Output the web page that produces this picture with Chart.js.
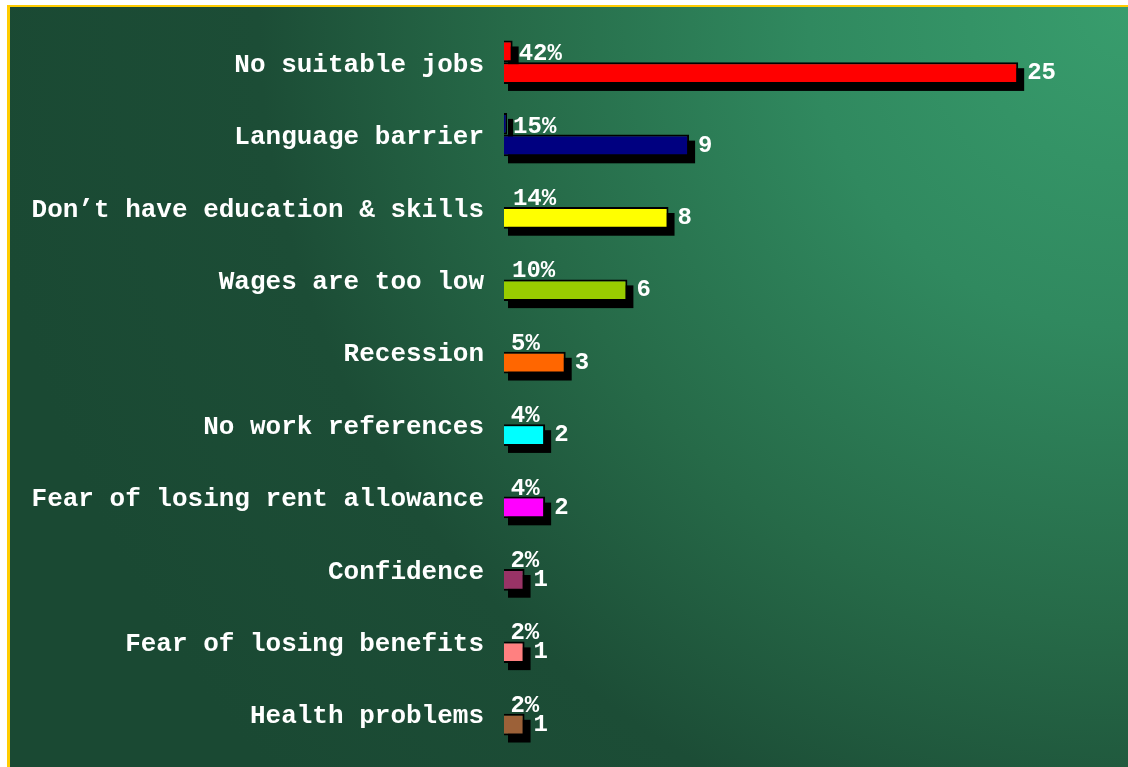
<!DOCTYPE html>
<html>
<head>
<meta charset="utf-8">
<script src="https://cdn.jsdelivr.net/npm/chart.js@4/dist/chart.umd.min.js"></script>
<style>
    html, body { margin: 0; padding: 0; background: #ffffff; }
    #frame {
        position: absolute; left: 7px; top: 5px; right: 0; bottom: 0;
        border-left: 3px solid #ffcc00;
        border-top: 2px solid #ffcc00;
        background: radial-gradient(circle at 100% 0%, #389d6d 0px, #30895f 320px, #266a48 620px, #1c4d36 870px, #1a4933 1150px);
    }
    #wrap { position: absolute; left: 0; top: 0; width: 1128px; height: 767px; }
</style>
</head>
<body>
<div id="frame"></div>
<div id="wrap"><canvas id="reasonChart"></canvas></div>
<script>
const categories = [
    'No suitable jobs',
    'Language barrier',
    'Don\u2019t have education & skills',
    'Wages are too low',
    'Recession',
    'No work references',
    'Fear of losing rent allowance',
    'Confidence',
    'Fear of losing benefits',
    'Health problems'
];
// 回答数
const counts = [25, 9, 8, 6, 3, 2, 2, 1, 1, 1];
// 割合 (%)
const shares = [42, 15, 14, 10, 5, 4, 4, 2, 2, 2];
// 割合の小さいバー（元の図では上2つだけ表示）
const shareBars = [0.42, 0.15, null, null, null, null, null, null, null, null];
const barColors = ['#ff0000', '#000080', '#ffff00', '#99cc00', '#ff6600',
                   '#00ffff', '#ff00ff', '#993366', '#ff8080', '#9c6138'];

const monoFont = '"Liberation Mono", "Courier New", monospace';

// 影を先に全部描く
const shadowPlugin = {
    id: 'barShadow',
    beforeDatasetsDraw(chart) {
        const ctx = chart.ctx;
        ctx.save();
        ctx.fillStyle = '#000000';
        chart.data.datasets.forEach((ds, di) => {
            const meta = chart.getDatasetMeta(di);
            meta.data.forEach((el, i) => {
                if (ds.data[i] == null) return;
                const p = el.getProps(['x', 'y', 'base', 'height'], true);
                const left = Math.min(p.x, p.base) - 1;
                const w = Math.abs(p.x - p.base) + 2;
                ctx.fillRect(left + 5, p.y - p.height / 2 + 6, w, p.height + 1);
            });
        });
        ctx.restore();
    }
};

// 数値ラベル
const labelPlugin = {
    id: 'valueLabels',
    afterDatasetsDraw(chart) {
        const ctx = chart.ctx;
        const xs = chart.scales.x;
        const mainMeta = chart.getDatasetMeta(1);
        ctx.save();
        ctx.fillStyle = '#ffffff';
        ctx.font = 'bold 24px ' + monoFont;
        mainMeta.data.forEach((el, i) => {
            const p = el.getProps(['x', 'y', 'height'], true);
            ctx.textAlign = 'left';
            ctx.textBaseline = 'middle';
            ctx.fillText(String(counts[i]), p.x + 9, p.y);
            ctx.textBaseline = 'alphabetic';
            const px = xs.getPixelForValue(shares[i] / 100) + 6;
            ctx.fillText(shares[i] + '%', px, p.y - p.height / 2 - 2);
        });
        ctx.restore();
    }
};

new Chart(document.getElementById('reasonChart'), {
    type: 'bar',
    data: {
        labels: categories,
        datasets: [
            {
                label: 'share',
                data: shareBars,
                backgroundColor: barColors,
                borderColor: '#000000',
                borderWidth: 2,
                categoryPercentage: 0.6,
                barPercentage: 1.0
            },
            {
                label: 'count',
                data: counts,
                backgroundColor: barColors,
                borderColor: '#000000',
                borderWidth: 2,
                categoryPercentage: 0.6,
                barPercentage: 1.0
            }
        ]
    },
    options: {
        indexAxis: 'y',
        responsive: true,
        maintainAspectRatio: false,
        animation: false,
        layout: { padding: { left: 0, right: 7, top: 26, bottom: 17 } },
        plugins: {
            legend: { display: false },
            tooltip: { enabled: false }
        },
        scales: {
            x: {
                display: false,
                min: 0,
                max: 30
            },
            y: {
                grid: { display: false, drawTicks: false },
                border: { display: false },
                ticks: {
                    color: '#ffffff',
                    padding: 20,
                    labelOffset: 3,
                    font: { family: monoFont, size: 26, weight: 'bold' }
                },
                afterFit: (scale) => {
                    scale.width = 504;
                    scale.paddingTop = 0;
                    scale.paddingBottom = 0;
                }
            }
        }
    },
    plugins: [shadowPlugin, labelPlugin]
});
</script>
</body>
</html>
